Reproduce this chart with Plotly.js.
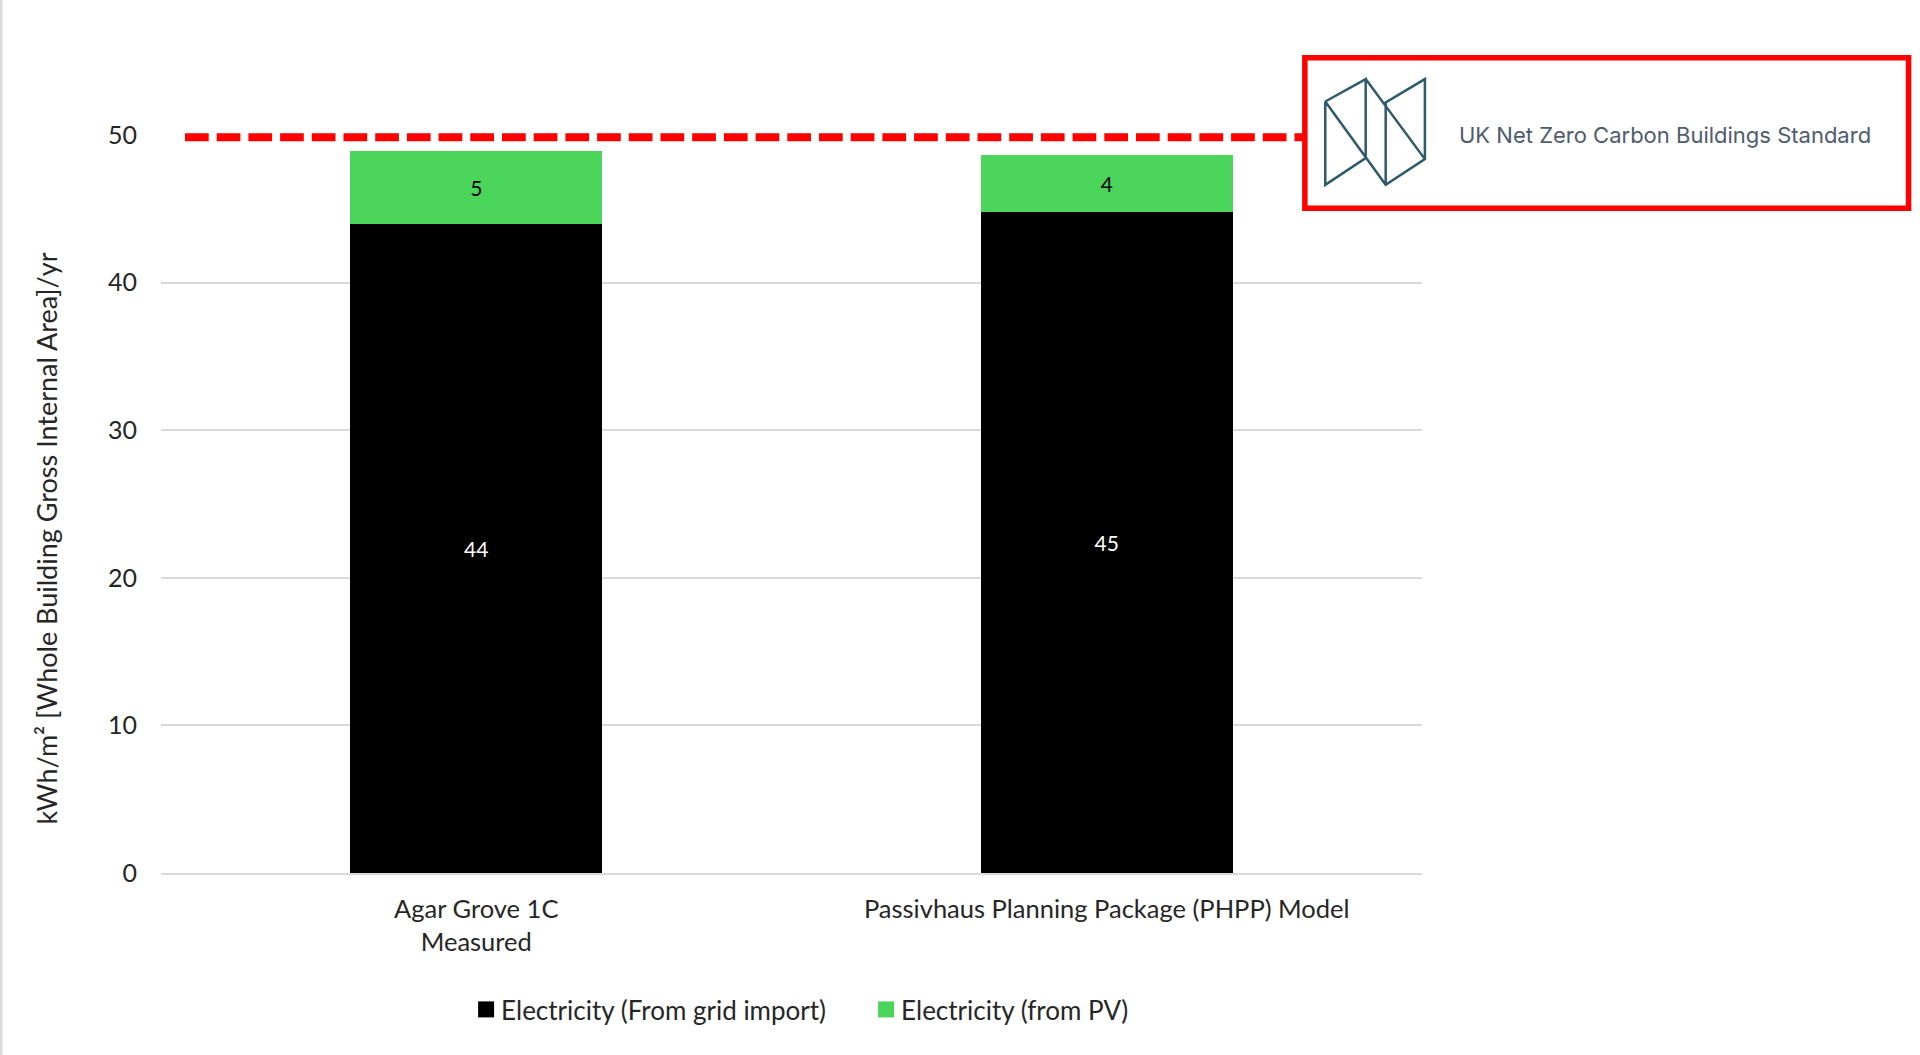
<!DOCTYPE html>
<html>
<head>
<meta charset="utf-8">
<script src="https://cdn.plot.ly/plotly-3.0.1.min.js"></script>
<style>
  html, body { margin: 0; padding: 0; background: #fff; overflow: hidden; }
  #chart { width: 1920px; height: 1055px; }
</style>
</head>
<body>
<div id="chart"></div>
<script>
const categories = ['Agar Grove 1C<br>Measured', 'Passivhaus Planning Package (PHPP) Model'];
const gridImport = [43.97, 44.76];
const fromPv = [4.93, 3.89];
const seriesNames = ['Electricity (From grid import)', 'Electricity (from PV)'];
const yTicks = [0, 10, 20, 30, 40, 50];
const yMax = 50;
const standardLimit = 49.85;
const yTitle = 'kWh/m² [Whole Building Gross Internal Area]/yr';
const standardLabel = 'UK Net Zero Carbon Buildings Standard';

const FONT = 'Lato, sans-serif';
const TEXT = '#262626';
const GRID = '#d9d9d9';

// plot area in page pixels
const plot = { left: 161, right: 1421.6, top: 135.2, bottom: 872.6 };
const px = x => (x - plot.left) / (plot.right - plot.left);
const py = y => (plot.bottom - y) / (plot.bottom - plot.top);

// logo outline, page pixels
const logoLines = [
  [[1324.9, 101.7], [1365.3, 79.3], [1365.3, 158.3], [1324.9, 185], [1324.9, 101.7]],
  [[1324.9, 101.7], [1385.3, 185], [1424.5, 159.3], [1424.5, 79.3], [1385.3, 102.7], [1385.3, 185]],
  [[1365.3, 79.3], [1424.5, 159.3]]
];
const logoPath = logoLines
  .map(line => line.map((p, i) => (i ? 'L' : 'M') + px(p[0]) + ',' + py(p[1])).join(' '))
  .join(' ');

const traces = [
  {
    type: 'bar',
    name: seriesNames[0],
    x: categories,
    y: gridImport,
    marker: { color: '#000000' },
    texttemplate: '%{y:.0f}',
    textposition: 'inside',
    insidetextanchor: 'middle',
    textangle: 0,
    textfont: { family: FONT, size: 21, color: '#ffffff' },
    hoverinfo: 'name+y'
  },
  {
    type: 'bar',
    name: seriesNames[1],
    x: categories,
    y: fromPv,
    marker: { color: '#4bd55b' },
    texttemplate: '%{y:.0f}',
    textposition: 'inside',
    insidetextanchor: 'middle',
    textangle: 0,
    textfont: { family: FONT, size: 21, color: '#000000' },
    hoverinfo: 'name+y'
  }
];

const layout = {
  width: 1920,
  height: 1055,
  autosize: false,
  paper_bgcolor: '#ffffff',
  plot_bgcolor: '#ffffff',
  margin: { l: plot.left, r: 1920 - plot.right, t: plot.top, b: 1055 - plot.bottom, pad: 0 },
  font: { family: FONT, size: 24, color: TEXT },
  barmode: 'stack',
  bargap: 0.6,
  showlegend: true,
  legend: {
    orientation: 'h',
    xref: 'paper', yref: 'paper',
    x: px(461), y: py(1009),
    xanchor: 'left', yanchor: 'middle',
    entrywidth: 355,
    entrywidthmode: 'pixels',
    traceorder: 'normal',
    font: { family: FONT, size: 26, color: TEXT },
    bgcolor: 'rgba(0,0,0,0)'
  },
  xaxis: {
    type: 'category',
    tickfont: { family: FONT, size: 25.5, color: TEXT },
    ticks: '',
    ticklabelstandoff: 12,
    showgrid: false,
    showline: true,
    linecolor: GRID,
    linewidth: 2,
    zeroline: false,
    fixedrange: true
  },
  yaxis: {
    range: [0, yMax],
    tickmode: 'array',
    tickvals: yTicks,
    ticktext: yTicks.map(String),
    tickfont: { family: FONT, size: 25, color: TEXT },
    ticks: '',
    ticklabelstandoff: 23,
    showgrid: true,
    gridcolor: GRID,
    gridwidth: 2,
    showline: false,
    zeroline: false,
    fixedrange: true
  },
  shapes: [
    // grey strip down the left edge
    { type: 'rect', xref: 'paper', yref: 'paper', x0: px(0), x1: px(2.5), y0: py(0), y1: py(1055),
      fillcolor: GRID, line: { width: 0 }, layer: 'above' },
    // standard limit, on paper so the top of the plot area does not clip it
    { type: 'line', xref: 'paper', yref: 'paper', x0: px(185), x1: px(1310),
      y0: standardLimit / yMax, y1: standardLimit / yMax,
      line: { color: '#ff0000', width: 8, dash: '23.7px,8px' }, layer: 'above' },
    // box round the logo
    { type: 'rect', xref: 'paper', yref: 'paper', x0: px(1304.5), x1: px(1908), y0: py(58), y1: py(208.5),
      fillcolor: '#ffffff', line: { color: '#ff0000', width: 5.5 }, layer: 'above' },
    { type: 'path', xref: 'paper', yref: 'paper', path: logoPath,
      line: { color: '#2f5a6b', width: 2.5 }, layer: 'above' }
  ],
  annotations: [
    { xref: 'paper', yref: 'paper', x: px(46.5), y: py(538), text: yTitle, textangle: -90, showarrow: false,
      xanchor: 'center', yanchor: 'middle', font: { family: FONT, size: 27, color: TEXT } },
    { xref: 'paper', yref: 'paper', x: px(1456.6), y: py(135), text: standardLabel, showarrow: false,
      xanchor: 'left', yanchor: 'middle', font: { family: 'Inter, sans-serif', size: 22, color: '#4f5b6e' } }
  ]
};

Plotly.newPlot('chart', traces, layout, { displayModeBar: false, responsive: false }).then(() => {
  // legend swatches are a bit larger and closer to the text in the original
  document.querySelectorAll('.legend .legendpoints path').forEach(p => {
    p.setAttribute('d', 'M8,8H-8V-8H8Z');
    p.setAttribute('transform', 'translate(25,0)');
  });
});
</script>
</body>
</html>
